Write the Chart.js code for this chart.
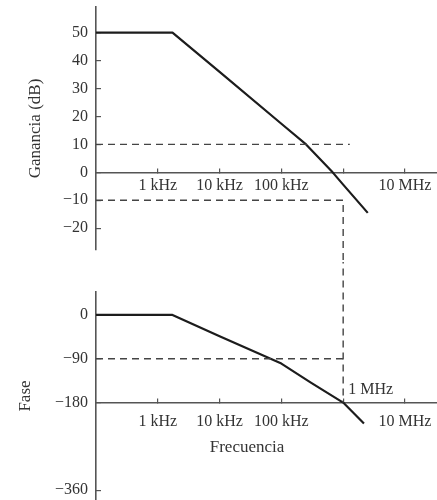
<!DOCTYPE html>
<html>
<head>
<meta charset="utf-8">
<script src="https://cdn.jsdelivr.net/npm/chart.js@4.4.1/dist/chart.umd.min.js"></script>
<style>
  html, body { margin: 0; padding: 0; background: #fff; }
  #wrap { position: relative; width: 437px; height: 500px; overflow: hidden; }
  canvas { position: absolute; left: 0; }
  #gain { top: 0; }
  #phase { top: 262px; }
</style>
</head>
<body>
<div id="wrap">
  <canvas id="gain" width="437" height="262"></canvas>
  <canvas id="phase" width="437" height="238"></canvas>
</div>
<script>
// marcas del eje de frecuencia (Hz)
const freqTicks = [1e3, 1e4, 1e5, 1e6, 1e7];
const freqLabels = ['1 kHz', '10 kHz', '100 kHz', '', '10 MHz'];

// ganancia en lazo abierto
const gainFreq = [100, 1730, 10000, 100000, 251000, 676000, 1000000, 2500000];
const gainDb = [50, 50, 36, 17.4, 10, 0, -4.4, -14.5];
const gainTicks = [-20, -10, 0, 10, 20, 30, 40, 50];

// fase
const phaseFreq = [100, 1730, 10000, 100000, 300000, 1000000, 2170000];
const phaseDeg = [0, 0, -44, -100, -139, -180, -223];
const phaseTicks = [-360, -180, -90, 0];

// lineas de trazos (margenes)
const dash10Freq = [100, 1280000];
const dash10Db = [10, 10];
const dashM10Freq = [100, 1000000, 1000000];
const dashM10Db = [-10, -10, -40];
const dash90Freq = [100, 1000000];
const dash90Deg = [-90, -90];
const dashVertFreq = [1000000, 1000000];
const dashVertDeg = [120, -180];

Chart.defaults.font.family = "'Liberation Serif', 'Times New Roman', serif";
Chart.defaults.color = '#333';

const pts = (xs, ys) => xs.map((x, i) => ({ x: x, y: ys[i] }));
const minus = v => (v < 0 ? '\u2212' + Math.abs(v) : String(v));

// sin margenes extra de las etiquetas, para fijar el area del grafico
function noPadding(s) {
    s.paddingLeft = 0;
    s.paddingRight = 0;
    s.paddingTop = 0;
    s.paddingBottom = 0;
}

function curve(data) {
    return {
        data: data, borderColor: '#1c1c1c', borderWidth: 2.2, pointRadius: 0,
        tension: 0, borderJoinStyle: 'round'
    };
}
function dashed(data) {
    return { data: data, borderColor: '#444', borderWidth: 1.4, borderDash: [7, 5], pointRadius: 0, clip: false };
}

function freqAxis(yValue, pad) {
    return {
        type: 'logarithmic',
        min: 100,
        max: 3.3e7,
        position: { y: yValue },
        afterBuildTicks: s => { s.ticks = freqTicks.map(v => ({ value: v })); },
        afterFit: s => { s.height = 0; noPadding(s); },
        ticks: {
            callback: (v, i) => freqLabels[i],
            autoSkip: false, maxRotation: 0, minRotation: 0,
            padding: pad,
            font: { size: 16 }
        },
        grid: { drawOnChartArea: false, tickLength: -5, color: '#555', lineWidth: 1.2 },
        border: { color: '#555', width: 1.6 }
    };
}

function valueAxis(min, max, ticks, title, width) {
    return {
        min: min,
        max: max,
        afterBuildTicks: s => { s.ticks = ticks.map(v => ({ value: v })); },
        afterFit: s => { s.width = width; noPadding(s); },
        ticks: { callback: v => minus(v), padding: 13, font: { size: 16 } },
        title: { display: true, text: title, font: { size: 17 }, padding: { top: 4, bottom: 4 } },
        grid: { drawOnChartArea: false, tickLength: -5, color: '#555', lineWidth: 1.2 },
        border: { color: '#555', width: 1.6 }
    };
}

new Chart(document.getElementById('gain').getContext('2d'), {
    type: 'line',
    data: {
        datasets: [
            dashed(pts(dash10Freq, dash10Db)),
            dashed(pts(dashM10Freq, dashM10Db)),
            curve(pts(gainFreq, gainDb))
        ]
    },
    options: {
        responsive: false,
        animation: false,
        layout: { padding: { left: 21, top: 7, bottom: 12, right: 0 } },
        plugins: { legend: { display: false }, tooltip: { enabled: false } },
        scales: {
            x: freqAxis(0, 9),
            y: valueAxis(-27.8, 59.2, gainTicks, 'Ganancia (dB)', 75)
        }
    }
});

// textos sueltos de la grafica de fase
const phaseNotes = {
    id: 'phaseNotes',
    afterDraw(chart) {
        const { ctx, scales: { x, y } } = chart;
        const axisY = y.getPixelForValue(-180);
        ctx.save();
        ctx.fillStyle = '#333';
        ctx.textBaseline = 'middle';
        ctx.textAlign = 'left';
        ctx.font = "16px 'Liberation Serif'";
        ctx.fillText('1 MHz', x.getPixelForValue(1e6) + 5, axisY - 13);
        ctx.textAlign = 'center';
        ctx.font = "17px 'Liberation Serif'";
        ctx.fillText('Frecuencia', 247, axisY + 45);
        ctx.restore();
    }
};

new Chart(document.getElementById('phase').getContext('2d'), {
    type: 'line',
    data: {
        datasets: [
            dashed(pts(dash90Freq, dash90Deg)),
            dashed(pts(dashVertFreq, dashVertDeg)),
            curve(pts(phaseFreq, phaseDeg))
        ]
    },
    options: {
        responsive: false,
        animation: false,
        layout: { padding: { left: 11, top: 30, bottom: 0, right: 0 } },
        plugins: { legend: { display: false }, tooltip: { enabled: false } },
        scales: {
            x: freqAxis(-180, 15),
            y: valueAxis(-380, 47, phaseTicks, 'Fase', 85)
        }
    },
    plugins: [phaseNotes]
});
</script>
</body>
</html>
